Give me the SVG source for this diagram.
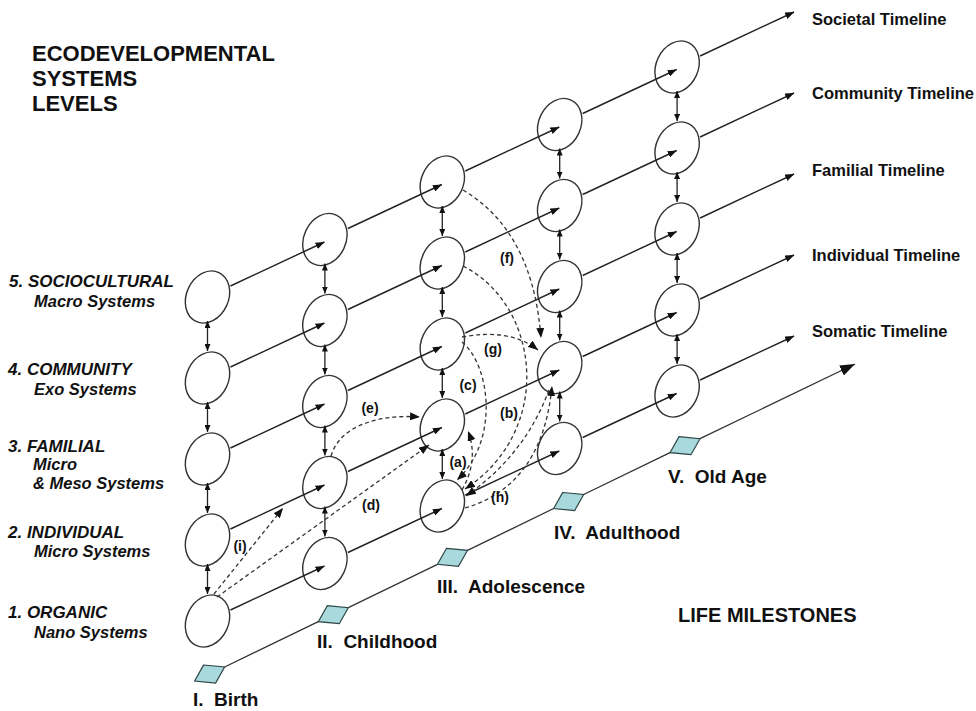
<svg xmlns="http://www.w3.org/2000/svg" width="976" height="711" viewBox="0 0 976 711">
<defs>
<style>
text{font-family:"Liberation Sans",Arial,sans-serif;fill:#111;font-weight:bold;white-space:pre}
.title{font-size:22px}
.lv{font-size:17px;font-style:italic}
.lv2{font-size:16.5px;font-style:italic}
.tlab{font-size:16.5px}
.ms{font-size:19px}
.lab{font-size:14px;text-anchor:middle}
.node ellipse{fill:#fff;stroke:#333;stroke-width:1.4}
.dia polygon{fill:#a8d9dd;stroke:#2f4646;stroke-width:1.2}
.tl{stroke:#222;stroke-width:1.4;fill:none;marker-end:url(#ah)}
.vt{stroke:#222;stroke-width:1.3;fill:none;marker-start:url(#ahs);marker-end:url(#ahs)}
.ds{stroke:#333;stroke-width:1.3;stroke-dasharray:4 3;fill:none;marker-end:url(#ahd)}
.ml{stroke:#333;stroke-width:1.3;fill:none}
</style>
<marker id="ah" markerUnits="userSpaceOnUse" markerWidth="9" markerHeight="7" refX="9" refY="3.5" orient="auto"><path d="M0,0 L9,3.5 L0,7 z" fill="#111"/></marker>
<marker id="ahs" markerUnits="userSpaceOnUse" markerWidth="7" markerHeight="6" refX="7" refY="3" orient="auto-start-reverse"><path d="M0,0 L7,3 L0,6 z" fill="#111"/></marker>
<marker id="ahd" markerUnits="userSpaceOnUse" markerWidth="10" markerHeight="8" refX="10" refY="4" orient="auto"><path d="M0,0 L10,4 L0,8 z" fill="#111"/></marker>
<marker id="ahb" markerUnits="userSpaceOnUse" markerWidth="15" markerHeight="11" refX="15" refY="5.5" orient="auto"><path d="M0,0 L15,5.5 L0,11 z" fill="#111"/></marker>
</defs>
<rect width="976" height="711" fill="#fff"/>

<g id="title">
<text class="title" x="32" y="61">ECODEVELOPMENTAL</text>
<text class="title" x="32" y="86">SYSTEMS</text>
<text class="title" x="32" y="111">LEVELS</text>
</g>

<g id="level-labels">
<text class="lv" x="9" y="287">5. SOCIOCULTURAL</text>
<text class="lv2" x="34" y="307">Macro Systems</text>
<text class="lv" x="8" y="375">4. COMMUNITY</text>
<text class="lv2" x="34" y="395">Exo Systems</text>
<text class="lv" x="8" y="452">3. FAMILIAL</text>
<text class="lv2" x="33" y="470">Micro</text>
<text class="lv2" x="33" y="489">&amp; Meso Systems</text>
<text class="lv" x="8" y="538">2. INDIVIDUAL</text>
<text class="lv2" x="34" y="557">Micro Systems</text>
<text class="lv" x="8" y="618">1. ORGANIC</text>
<text class="lv2" x="34" y="638">Nano Systems</text>
</g>

<g id="timeline-labels">
<text class="tlab" x="812" y="25">Societal Timeline</text>
<text class="tlab" x="812" y="99">Community Timeline</text>
<text class="tlab" x="812" y="176">Familial Timeline</text>
<text class="tlab" x="812" y="261">Individual Timeline</text>
<text class="tlab" x="812" y="337">Somatic Timeline</text>
</g>

<g id="nodes">
<g id="n-c1-l1" class="node" transform="translate(207.5,621)"><ellipse rx="21" ry="27" transform="rotate(25)"/></g>
<g id="n-c1-l2" class="node" transform="translate(207.5,540)"><ellipse rx="21" ry="27" transform="rotate(25)"/></g>
<g id="n-c1-l3" class="node" transform="translate(207.5,459)"><ellipse rx="21" ry="27" transform="rotate(25)"/></g>
<g id="n-c1-l4" class="node" transform="translate(207.5,378)"><ellipse rx="21" ry="27" transform="rotate(25)"/></g>
<g id="n-c1-l5" class="node" transform="translate(207.5,297)"><ellipse rx="21" ry="27" transform="rotate(25)"/></g>
<g id="n-c2-l1" class="node" transform="translate(324.9,563.5)"><ellipse rx="21" ry="27" transform="rotate(25)"/></g>
<g id="n-c2-l2" class="node" transform="translate(324.9,482.5)"><ellipse rx="21" ry="27" transform="rotate(25)"/></g>
<g id="n-c2-l3" class="node" transform="translate(324.9,401.5)"><ellipse rx="21" ry="27" transform="rotate(25)"/></g>
<g id="n-c2-l4" class="node" transform="translate(324.9,320.5)"><ellipse rx="21" ry="27" transform="rotate(25)"/></g>
<g id="n-c2-l5" class="node" transform="translate(324.9,239.5)"><ellipse rx="21" ry="27" transform="rotate(25)"/></g>
<g id="n-c3-l1" class="node" transform="translate(442.3,506)"><ellipse rx="21" ry="27" transform="rotate(25)"/></g>
<g id="n-c3-l2" class="node" transform="translate(442.3,425)"><ellipse rx="21" ry="27" transform="rotate(25)"/></g>
<g id="n-c3-l3" class="node" transform="translate(442.3,344)"><ellipse rx="21" ry="27" transform="rotate(25)"/></g>
<g id="n-c3-l4" class="node" transform="translate(442.3,263)"><ellipse rx="21" ry="27" transform="rotate(25)"/></g>
<g id="n-c3-l5" class="node" transform="translate(442.3,182)"><ellipse rx="21" ry="27" transform="rotate(25)"/></g>
<g id="n-c4-l1" class="node" transform="translate(559.7,448.5)"><ellipse rx="21" ry="27" transform="rotate(25)"/></g>
<g id="n-c4-l2" class="node" transform="translate(559.7,367.5)"><ellipse rx="21" ry="27" transform="rotate(25)"/></g>
<g id="n-c4-l3" class="node" transform="translate(559.7,286.5)"><ellipse rx="21" ry="27" transform="rotate(25)"/></g>
<g id="n-c4-l4" class="node" transform="translate(559.7,205.5)"><ellipse rx="21" ry="27" transform="rotate(25)"/></g>
<g id="n-c4-l5" class="node" transform="translate(559.7,124.5)"><ellipse rx="21" ry="27" transform="rotate(25)"/></g>
<g id="n-c5-l1" class="node" transform="translate(677.1,391)"><ellipse rx="21" ry="27" transform="rotate(25)"/></g>
<g id="n-c5-l2" class="node" transform="translate(677.1,310)"><ellipse rx="21" ry="27" transform="rotate(25)"/></g>
<g id="n-c5-l3" class="node" transform="translate(677.1,229)"><ellipse rx="21" ry="27" transform="rotate(25)"/></g>
<g id="n-c5-l4" class="node" transform="translate(677.1,148)"><ellipse rx="21" ry="27" transform="rotate(25)"/></g>
<g id="n-c5-l5" class="node" transform="translate(677.1,67)"><ellipse rx="21" ry="27" transform="rotate(25)"/></g>
</g>

<g id="milestones">
<g id="m-birth" class="dia"><polygon points="203.6,665 224.6,667 215.6,683 194.6,681"/><text class="ms" x="193" y="706">I.  Birth</text></g>
<g id="m-childhood" class="dia"><polygon points="327.3,605.7 348.3,607.7 339.3,623.7 318.3,621.7"/><text class="ms" x="317" y="648">II.  Childhood</text></g>
<g id="m-adolescence" class="dia"><polygon points="446.5,548.3 467.5,550.3 458.5,566.3 437.5,564.3"/><text class="ms" x="437" y="593">III.  Adolescence</text></g>
<g id="m-adulthood" class="dia"><polygon points="562.7,492.5 583.7,494.5 574.7,510.5 553.7,508.5"/><text class="ms" x="554" y="539">IV.  Adulthood</text></g>
<g id="m-oldage" class="dia"><polygon points="679,436.7 700,438.7 691,454.7 670,452.7"/><text class="ms" x="668" y="483">V.  Old Age</text></g>
<text class="ms" x="678" y="622" style="font-size:20px">LIFE MILESTONES</text>
</g>

<g id="connectors">
<!-- timeline arrows -->
<path class="tl" d="M230.5,610 L324.5,566"/>
<path class="tl" d="M230.5,529 L324.5,485"/>
<path class="tl" d="M230.5,448 L324.5,404"/>
<path class="tl" d="M230.5,367 L324.5,323"/>
<path class="tl" d="M230.5,286 L324.5,242"/>
<path class="tl" d="M347.9,552.5 L441.9,508.5"/>
<path class="tl" d="M347.9,471.5 L441.9,427.5"/>
<path class="tl" d="M347.9,390.5 L441.9,346.5"/>
<path class="tl" d="M347.9,309.5 L441.9,265.5"/>
<path class="tl" d="M347.9,228.5 L441.9,184.5"/>
<path class="tl" d="M465.3,495 L559.3,451"/>
<path class="tl" d="M465.3,414 L559.3,370"/>
<path class="tl" d="M465.3,333 L559.3,289"/>
<path class="tl" d="M465.3,252 L559.3,208"/>
<path class="tl" d="M465.3,171 L559.3,127"/>
<path class="tl" d="M582.7,437.5 L676.7,393.5"/>
<path class="tl" d="M582.7,356.5 L676.7,312.5"/>
<path class="tl" d="M582.7,275.5 L676.7,231.5"/>
<path class="tl" d="M582.7,194.5 L676.7,150.5"/>
<path class="tl" d="M582.7,113.5 L676.7,69.5"/>
<path class="tl" d="M700.1,380 L794.1,336"/>
<path class="tl" d="M700.1,299 L794.1,255"/>
<path class="tl" d="M700.1,218 L794.1,174"/>
<path class="tl" d="M700.1,137 L794.1,93"/>
<path class="tl" d="M700.1,56 L794.1,12"/>
<!-- vertical double arrows -->
<path class="vt" d="M207.5,321 V351"/>
<path class="vt" d="M207.5,402 V432"/>
<path class="vt" d="M207.5,483 V513"/>
<path class="vt" d="M207.5,564 V594"/>
<path class="vt" d="M324.9,263.5 V293.5"/>
<path class="vt" d="M324.9,344.5 V374.5"/>
<path class="vt" d="M324.9,425.5 V455.5"/>
<path class="vt" d="M324.9,506.5 V536.5"/>
<path class="vt" d="M442.3,206 V236"/>
<path class="vt" d="M442.3,287 V317"/>
<path class="vt" d="M442.3,368 V398"/>
<path class="vt" d="M442.3,449 V479"/>
<path class="vt" d="M559.7,148.5 V178.5"/>
<path class="vt" d="M559.7,229.5 V259.5"/>
<path class="vt" d="M559.7,310.5 V340.5"/>
<path class="vt" d="M559.7,391.5 V421.5"/>
<path class="vt" d="M677.1,91 V121"/>
<path class="vt" d="M677.1,172 V202"/>
<path class="vt" d="M677.1,253 V283"/>
<path class="vt" d="M677.1,334 V364"/>
<!-- milestone line -->
<path class="ml" d="M224.6,667 L318.3,621.7 M348.3,607.7 L437.5,564.3 M467.5,550.3 L553.7,508.5 M583.7,494.5 L670,452.7"/>
<path class="ml" d="M700,438.7 L855,364" marker-end="url(#ahb)"/>
<!-- dashed influence arrows -->
<path class="ds" d="M462,490 Q479,460 468,431"/>
<path class="ds" d="M463,266 C540,305 555,430 465,489"/>
<path class="ds" d="M462,342 C490,365 500,440 457,480"/>
<path class="ds" d="M217,597 L429,445"/>
<path class="ds" d="M331,456 C340,425 380,414 420,417"/>
<path class="ds" d="M463,190 C505,215 535,260 541,338"/>
<path class="ds" d="M462,337 Q510,328 538,350"/>
<path class="ds" d="M465,508 C510,495 545,460 552,386"/>
<path class="ds" d="M549,390 Q525,455 466,496"/>
<path class="ds" d="M214,594 L283,508"/>
</g>

<g id="connector-labels">
<text class="lab" x="458" y="467">(a)</text>
<text class="lab" x="509" y="418">(b)</text>
<text class="lab" x="468" y="390">(c)</text>
<text class="lab" x="371" y="510">(d)</text>
<text class="lab" x="370" y="413">(e)</text>
<text class="lab" x="507" y="263">(f)</text>
<text class="lab" x="493" y="354">(g)</text>
<text class="lab" x="500" y="502">(h)</text>
<text class="lab" x="240" y="551">(i)</text>
</g>
</svg>
